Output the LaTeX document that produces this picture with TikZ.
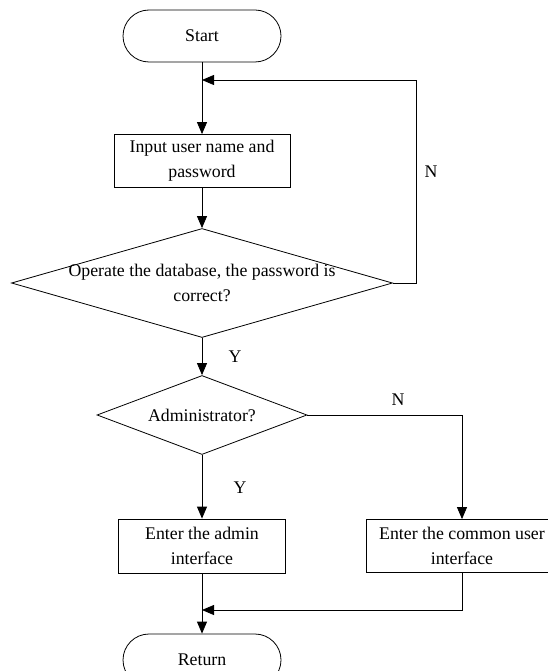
\documentclass[tikz,border=0pt]{standalone}
\usepackage{fontspec}
\setmainfont{Liberation Serif}
\usetikzlibrary{shapes.geometric, arrows.meta, positioning}

\tikzset{
  terminal/.style={draw, rectangle, rounded corners=26pt, minimum width=158pt, minimum height=52pt},
  process/.style={draw, rectangle, align=center, minimum height=53pt},
  decision/.style={draw, diamond, inner sep=0pt},
  flow/.style={-{Triangle[length=12pt,width=10pt]}},
}

\begin{document}
\begin{tikzpicture}[x=1pt, y=-1pt, font=\fontsize{17.8}{25}\selectfont, line width=0.8pt]
\useasboundingbox (0,0) rectangle (547,671);

%start
\node[terminal] (start) at (202,36) {Start};
%loop merge
\coordinate[below of=start, node distance=44pt] (m1);
\coordinate[right of=m1, node distance=214pt] (c1);
%input
\node[process, below of=start, node distance=125pt, minimum width=176pt] (input) {Input user name and\\password};
%check password
\node[decision, below of=input, node distance=122pt, minimum width=381pt, minimum height=109pt] (d1) {};
\node[align=center] (d1text) at (d1) {Operate the database, the password is\\correct?};
%administrator
\node[decision, below of=d1, node distance=132pt, minimum width=210pt, minimum height=79pt, aspect=2.66] (d2) {Administrator?};
%admin
\node[process, below of=d2, node distance=131pt, minimum width=167pt, minimum height=54pt] (admin) {Enter the admin\\interface};
%common user
\node[process, right of=admin, node distance=260pt, minimum width=192pt] (common) {Enter the common user\\interface};
%return merge
\coordinate[below of=admin, node distance=64pt] (m2);
%return
\node[terminal, below of=admin, node distance=114pt] (ret) {Return};

%labels
\node (n1) at (431,172) {N};
\node (y1) at (235,357) {Y};
\node (n2) at (398,400) {N};
\node (y2) at (240,488) {Y};

\draw[flow] (start) -- (input);
\draw[flow] (input) -- (d1);
\draw[flow] (d1.east) -| (c1) -- (m1);
\draw[flow] (d1) -- (d2);
\draw[flow] (d2.east) -| (common);
\draw[flow] (d2) -- (admin);
\draw[flow] (admin) -- (ret);
\draw[flow] (common) |- (m2);

\end{tikzpicture}
\end{document}
